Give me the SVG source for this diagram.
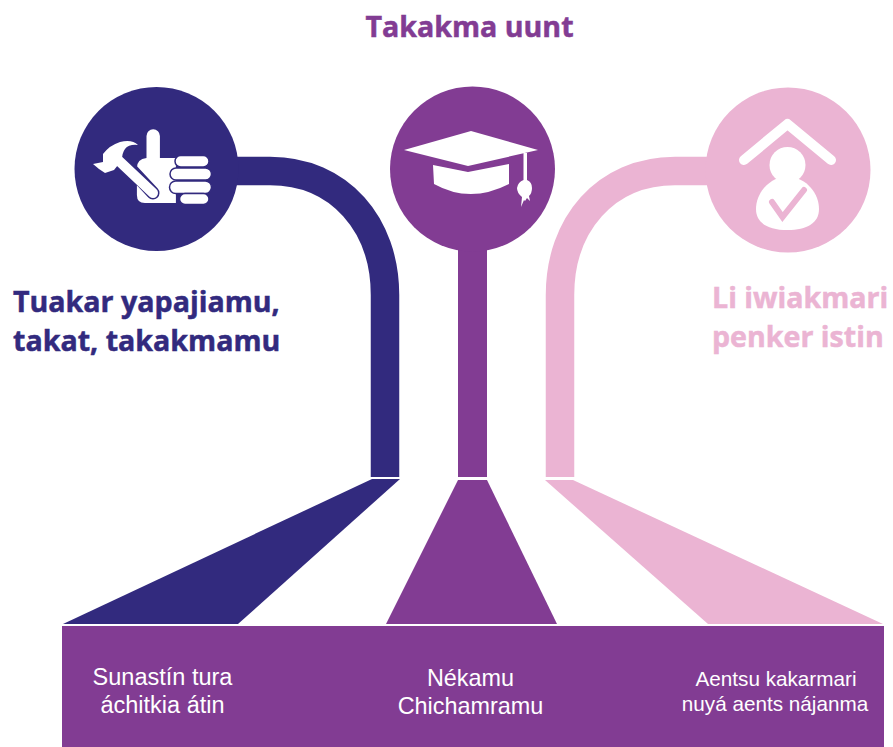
<svg xmlns="http://www.w3.org/2000/svg" width="893" height="747" viewBox="0 0 893 747">
<style>
.h{font-family:"Open Sans","Noto Sans",sans-serif;font-weight:700;font-size:28.6px;stroke-width:.5px}
.b{font-family:"Liberation Sans",Arial,sans-serif;fill:#fff;text-anchor:middle}
.navy{fill:#322a7e}.purple{fill:#823c93}.pink{fill:#ebb4d3}
.w{fill:#fff}
</style>
<rect width="893" height="747" fill="#fff"/>
<g id="connectors" fill="none" stroke-width="28.5">
<path d="M225 171H270C340 171 385 225 385 295V477" stroke="#322a7e"/>
<path d="M472.500 240V477" stroke="#823c93" stroke-width="29"/>
<path d="M720 171H675C605 171 560 225 560 295V477" stroke="#ebb4d3"/>
</g>
<g id="title"><text class="h purple" stroke="#823c93" x="469.500" y="37" text-anchor="middle">Takakma uunt</text></g>
<g id="node-left">
<circle class="navy" cx="156.500" cy="169" r="82"/>
<path class="w" d="M146.500 136a6.700 6.700 0 0 1 13.400 0v22h16v45h-31q-8 0-8-8v-27q0-9 9.600-10z"/>
<g fill="#fff" stroke="#322a7e" stroke-width="1.500">
<rect x="175" y="155.500" width="34" height="11.500" rx="5.700"/>
<rect x="170" y="168" width="41.500" height="12" rx="6"/>
<rect x="169.500" y="181" width="42" height="12.500" rx="6.200"/>
<rect x="179.500" y="193.500" width="29.500" height="11" rx="5.500"/>
</g>
<path fill="none" stroke="#322a7e" stroke-width="13" stroke-linecap="round" d="M125 163L153 193"/>
<path fill="none" stroke="#fff" stroke-width="10" stroke-linecap="round" d="M117 159L153 193"/>
<path class="w" d="M93 164L103 162 103 154Q110 145 120 142 132 139 138 145 129 144 125 149 122 153 122 160L114 170 105 173 99 169z"/>
</g>
<g id="node-center">
<circle class="purple" cx="472.500" cy="169" r="82.500"/>
<path class="w" d="M404 150L471 131 538 150 468 166z"/>
<path class="w" d="M433 165L468 172 509 164V184Q470 204 434 184z"/>
<path class="w" d="M523.500 153h3.500v27q5 2 5 8 0 5-3 8l1 5-3-3-2 3-1-1-3 7 1-10q-5-4-5-9 1-6 6.500-8z"/>
</g>
<g id="node-right">
<circle class="pink" cx="788" cy="170" r="82.500"/>
<path fill="none" stroke="#fff" stroke-width="10" stroke-linecap="round" stroke-linejoin="round" d="M744 160L787.500 124 831 160"/>
<circle class="w" cx="787.500" cy="165" r="18"/>
<path class="w" d="M787.500 176c20 2 31.500 18 31.500 33 0 14-12 21-31.500 21s-31.500-7-31.500-21c0-15 11.500-31 31.500-33z"/>
<path fill="none" stroke="#ebb4d3" stroke-width="6" stroke-linecap="round" d="M772 202L782.500 217 804 190"/>
</g>
<g id="label-left"><text class="h navy" stroke="#322a7e"><tspan x="13" y="312">Tuakar yapajiamu,</tspan><tspan x="13" y="351">takat, takakmamu</tspan></text></g>
<g id="label-right"><text class="h pink" stroke="#ebb4d3"><tspan x="712" y="308">Li iwiakmari</tspan><tspan x="712" y="347">penker istin</tspan></text></g>
<g id="funnel-left"><path class="navy" d="M372 479H400L238 624H63z"/></g>
<g id="funnel-center"><path class="purple" d="M458 480H487L557 624H386z"/></g>
<g id="funnel-right"><path class="pink" d="M545 480H573L883 624H708z"/></g>
<g id="bar">
<rect class="purple" x="62" y="626" width="822" height="121"/>
<text class="b" font-size="23.500"><tspan x="162.500" y="685">Sunastín tura</tspan><tspan x="162.500" y="713">áchitkia átin</tspan></text>
<text class="b" font-size="23.400"><tspan x="470.500" y="686">Nékamu</tspan><tspan x="470.500" y="714">Chichamramu</tspan></text>
<text class="b" font-size="20.700"><tspan x="776" y="686">Aentsu kakarmari</tspan><tspan x="775" y="711">nuyá aents nájanma</tspan></text>
</g>
</svg>
